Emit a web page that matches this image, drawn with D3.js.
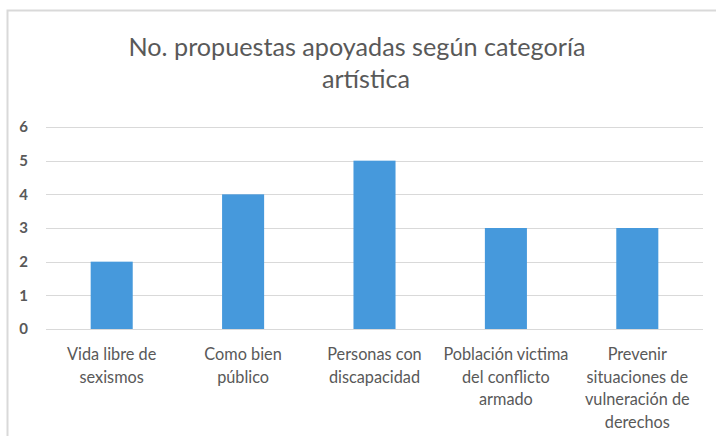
<!DOCTYPE html>
<html>
<head>
<meta charset="utf-8">
<script src="https://cdn.jsdelivr.net/npm/d3@7"></script>
<style>
  html, body { margin: 0; padding: 0; background: #fff; }
  svg { display: block; }
  text { font-family: Lato, "Open Sans", sans-serif; fill: #595959; }
</style>
</head>
<body>
<svg id="chart" width="716" height="436"></svg>
<script>
const categories = [
  ["Vida libre de", "sexismos"],
  ["Como bien", "público"],
  ["Personas con", "discapacidad"],
  ["Población victima", "del conflicto", "armado"],
  ["Prevenir", "situaciones de", "vulneración de", "derechos"]
];
const values = [2, 4, 5, 3, 3];
const yTicks = [0, 1, 2, 3, 4, 5, 6];
const titleLines = ["No. propuestas apoyadas según categoría", "artística"];

(function () {
const svg = d3.select("#chart");
const W = 716, H = 436;

// outer chart frame (extends beyond view on right and bottom)
svg.append("rect")
  .attr("x", 7.5).attr("y", 10.5)
  .attr("width", W + 20).attr("height", H + 20)
  .attr("fill", "none").attr("stroke", "#d9d9d9").attr("stroke-width", 2);

const plotL = 46, plotR = 703, plotT = 127, plotB = 329;

const x = d3.scaleBand()
  .domain(d3.range(categories.length))
  .range([plotL, plotR])
  .paddingInner(0.68)
  .paddingOuter(0.34);

const y = d3.scaleLinear().domain([0, 6]).range([plotB, plotT]);

// gridlines
svg.append("g")
  .selectAll("line")
  .data(yTicks)
  .join("line")
  .attr("x1", plotL).attr("x2", plotR)
  .attr("y1", d => Math.round(y(d)) + 0.5).attr("y2", d => Math.round(y(d)) + 0.5)
  .attr("stroke", "#d9d9d9").attr("stroke-width", 1.2);

// y axis labels
const yAxis = d3.axisLeft(y).tickValues(yTicks).tickFormat(d3.format("d")).tickSize(0).tickPadding(0);
const yg = svg.append("g").attr("transform", `translate(28,0)`).call(yAxis);
yg.select(".domain").remove();
yg.selectAll("text")
  .style("font-family", "Lato, 'Open Sans', sans-serif")
  .style("font-size", "15px").style("font-weight", "bold")
  .attr("fill", "#595959");

// bars
svg.append("g")
  .selectAll("rect")
  .data(values)
  .join("rect")
  .attr("x", (d, i) => x(i))
  .attr("y", d => y(d))
  .attr("width", x.bandwidth())
  .attr("height", d => y(0) - y(d))
  .attr("fill", "#4699dc");

// x category labels
const xl = svg.append("g");
categories.forEach((lines, i) => {
  const t = xl.append("text")
    .attr("text-anchor", "middle")
    .attr("font-size", 16.3);
  lines.forEach((ln, j) => {
    t.append("tspan")
      .attr("x", x(i) + x.bandwidth() / 2)
      .attr("y", 360 + j * 22.5)
      .text(ln);
  });
});

// title
const tt = svg.append("text").attr("text-anchor", "middle").attr("font-size", 25.2);
const titleX = [357, 366];
titleLines.forEach((ln, j) => {
  tt.append("tspan").attr("x", titleX[j]).attr("y", 56 + j * 32).text(ln);
});
})();
</script>
</body>
</html>
